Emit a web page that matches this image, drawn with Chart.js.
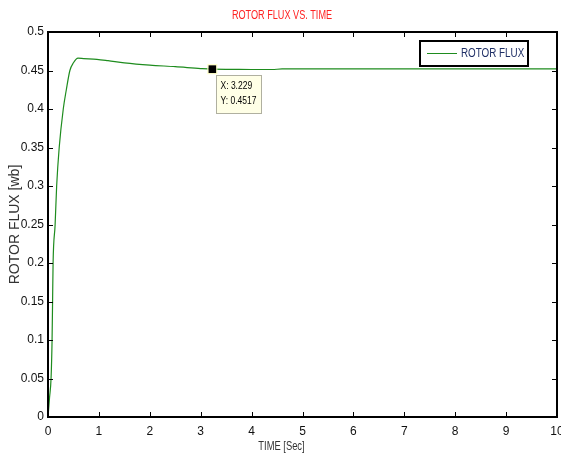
<!DOCTYPE html>
<html><head><meta charset="utf-8">
<script src="https://cdn.jsdelivr.net/npm/chart.js@4.4.1/dist/chart.umd.min.js"></script>
<style>html,body{margin:0;padding:0;background:#fff}#wrap{width:561px;height:457px;position:relative}</style>
</head><body><div id="wrap"><canvas id="c" width="561" height="457"></canvas></div>
<script>
// ---- data ----
const timeSec = [0, 0.03, 0.06, 0.08, 0.09, 0.1, 0.14, 0.17, 0.22, 0.3, 0.36, 0.43, 0.5, 0.59, 0.7, 0.96, 1.18, 1.5, 2, 2.5, 3, 3.229, 3.6, 4, 4.4, 4.6, 5, 6, 7, 8, 9, 10];
const rotorFlux = [0, 0.025, 0.05, 0.1, 0.15, 0.2, 0.25, 0.3, 0.35, 0.4, 0.425, 0.45, 0.46, 0.466, 0.4655, 0.4645, 0.4628, 0.46, 0.457, 0.455, 0.4525, 0.4517, 0.4515, 0.4513, 0.4513, 0.452, 0.452, 0.452, 0.452, 0.452, 0.452, 0.452];
const xTicks = [0,1,2,3,4,5,6,7,8,9,10];
const yTicks = [0,0.05,0.1,0.15,0.2,0.25,0.3,0.35,0.4,0.45,0.5];
const tipX = 3.229, tipY = 0.4517;
const seriesLabel = 'ROTOR FLUX';
const chartTitle = 'ROTOR FLUX VS. TIME';
const xTitle = 'TIME [Sec]';
const yTitle = 'ROTOR FLUX [wb]';

const SANS = '"Liberation Sans", Arial, sans-serif';

function narrowText(ctx, text, x, y, sx, align) {
  ctx.save();
  ctx.translate(x, y);
  ctx.scale(sx, 1);
  ctx.textAlign = align;
  ctx.fillText(text, 0, 0);
  ctx.restore();
}

const decor = {
  id: 'decor',
  afterDraw(chart) {
    const ctx = chart.ctx, a = chart.chartArea;
    const xs = chart.scales.x, ys = chart.scales.y;
    ctx.save();
    // box
    ctx.strokeStyle = '#000'; ctx.lineWidth = 2;
    ctx.strokeRect(a.left, a.top, a.right - a.left, a.bottom - a.top);
    // inward ticks
    ctx.lineWidth = 1;
    ctx.beginPath();
    xTicks.forEach(v => {
      const px = Math.round(xs.getPixelForValue(v)) + 0.5;
      ctx.moveTo(px, a.bottom); ctx.lineTo(px, a.bottom - 5);
      ctx.moveTo(px, a.top); ctx.lineTo(px, a.top + 5);
    });
    yTicks.forEach(v => {
      const py = Math.round(ys.getPixelForValue(v)) + 0.5;
      ctx.moveTo(a.left, py); ctx.lineTo(a.left + 5, py);
      ctx.moveTo(a.right, py); ctx.lineTo(a.right - 5, py);
    });
    ctx.stroke();
    ctx.textBaseline = 'middle';
    // title
    ctx.fillStyle = '#ff2222';
    ctx.font = '12px ' + SANS;
    narrowText(ctx, chartTitle, 282, 16, 0.76, 'center');
    // x title
    ctx.fillStyle = '#333';
    ctx.font = '12px ' + SANS;
    narrowText(ctx, xTitle, (a.left + a.right) / 2 - 21, 447, 0.78, 'center');
    // y title
    ctx.save();
    ctx.translate(15, (a.top + a.bottom) / 2);
    ctx.rotate(-Math.PI / 2);
    ctx.font = '14px ' + SANS;
    ctx.fillStyle = '#333';
    ctx.textAlign = 'center';
    ctx.fillText(yTitle, 0, 0);
    ctx.restore();
    // legend
    const ds = chart.data.datasets[0];
    ctx.fillStyle = '#fff';
    ctx.fillRect(420, 41, 108, 25);
    ctx.strokeStyle = '#000'; ctx.lineWidth = 2;
    ctx.strokeRect(420, 41, 108, 25);
    ctx.strokeStyle = ds.borderColor; ctx.lineWidth = 1;
    ctx.beginPath(); ctx.moveTo(427, 53.5); ctx.lineTo(457, 53.5); ctx.stroke();
    ctx.fillStyle = '#1f2f66';
    ctx.font = '12px ' + SANS;
    narrowText(ctx, ds.label, 461, 54, 0.82, 'left');
    // datatip
    const mx = xs.getPixelForValue(tipX), my = ys.getPixelForValue(tipY);
    ctx.fillStyle = '#000';
    ctx.strokeStyle = '#ffffc0'; ctx.lineWidth = 1;
    ctx.fillRect(mx - 4, my - 4, 8, 8);
    ctx.strokeRect(mx - 4.5, my - 4.5, 9, 9);
    const bx = Math.round(mx) + 4.5, by = Math.round(my) + 6.5;
    ctx.fillStyle = '#ffffe6';
    ctx.fillRect(bx, by, 45, 38);
    ctx.strokeStyle = '#b0b0a0';
    ctx.strokeRect(bx, by, 45, 38);
    ctx.fillStyle = '#000';
    ctx.font = '10px ' + SANS;
    narrowText(ctx, 'X: ' + tipX, bx + 4, by + 11, 0.85, 'left');
    narrowText(ctx, 'Y: ' + tipY, bx + 4, by + 26, 0.85, 'left');
    ctx.restore();
  }
};

new Chart(document.getElementById('c'), {
  type: 'line',
  data: {
    datasets: [{
      label: seriesLabel,
      data: timeSec.map((t, i) => ({x: t, y: rotorFlux[i]})),
      borderColor: '#1e8c1e',
      borderWidth: 1.2,
      pointRadius: 0,
      cubicInterpolationMode: 'monotone',
      fill: false
    }]
  },
  options: {
    responsive: false,
    animation: false,
    layout: {padding: {top: 32, right: 4, left: 0, bottom: 0}},
    plugins: {legend: {display: false}, title: {display: false}, tooltip: {enabled: false}},
    scales: {
      x: {
        type: 'linear', min: 0, max: 10,
        afterBuildTicks: s => { s.ticks = xTicks.map(v => ({value: v})); },
        afterFit: s => { s.height = 40; s.paddingLeft = 0; s.paddingRight = 0; },
        grid: {display: false, drawTicks: false},
        border: {display: false},
        ticks: {padding: 7, color: '#111', font: {family: SANS, size: 12}, maxRotation: 0,
          callback: v => String(v)}
      },
      y: {
        type: 'linear', min: 0, max: 0.5,
        afterBuildTicks: s => { s.ticks = yTicks.map(v => ({value: v})); },
        afterFit: s => { s.width = 48; s.paddingTop = 0; s.paddingBottom = 0; },
        grid: {display: false, drawTicks: false},
        border: {display: false},
        ticks: {padding: 4, color: '#111', font: {family: SANS, size: 12},
          callback: v => String(Number(v.toFixed(2)))}
      }
    }
  },
  plugins: [decor]
});
</script>
</body></html>
